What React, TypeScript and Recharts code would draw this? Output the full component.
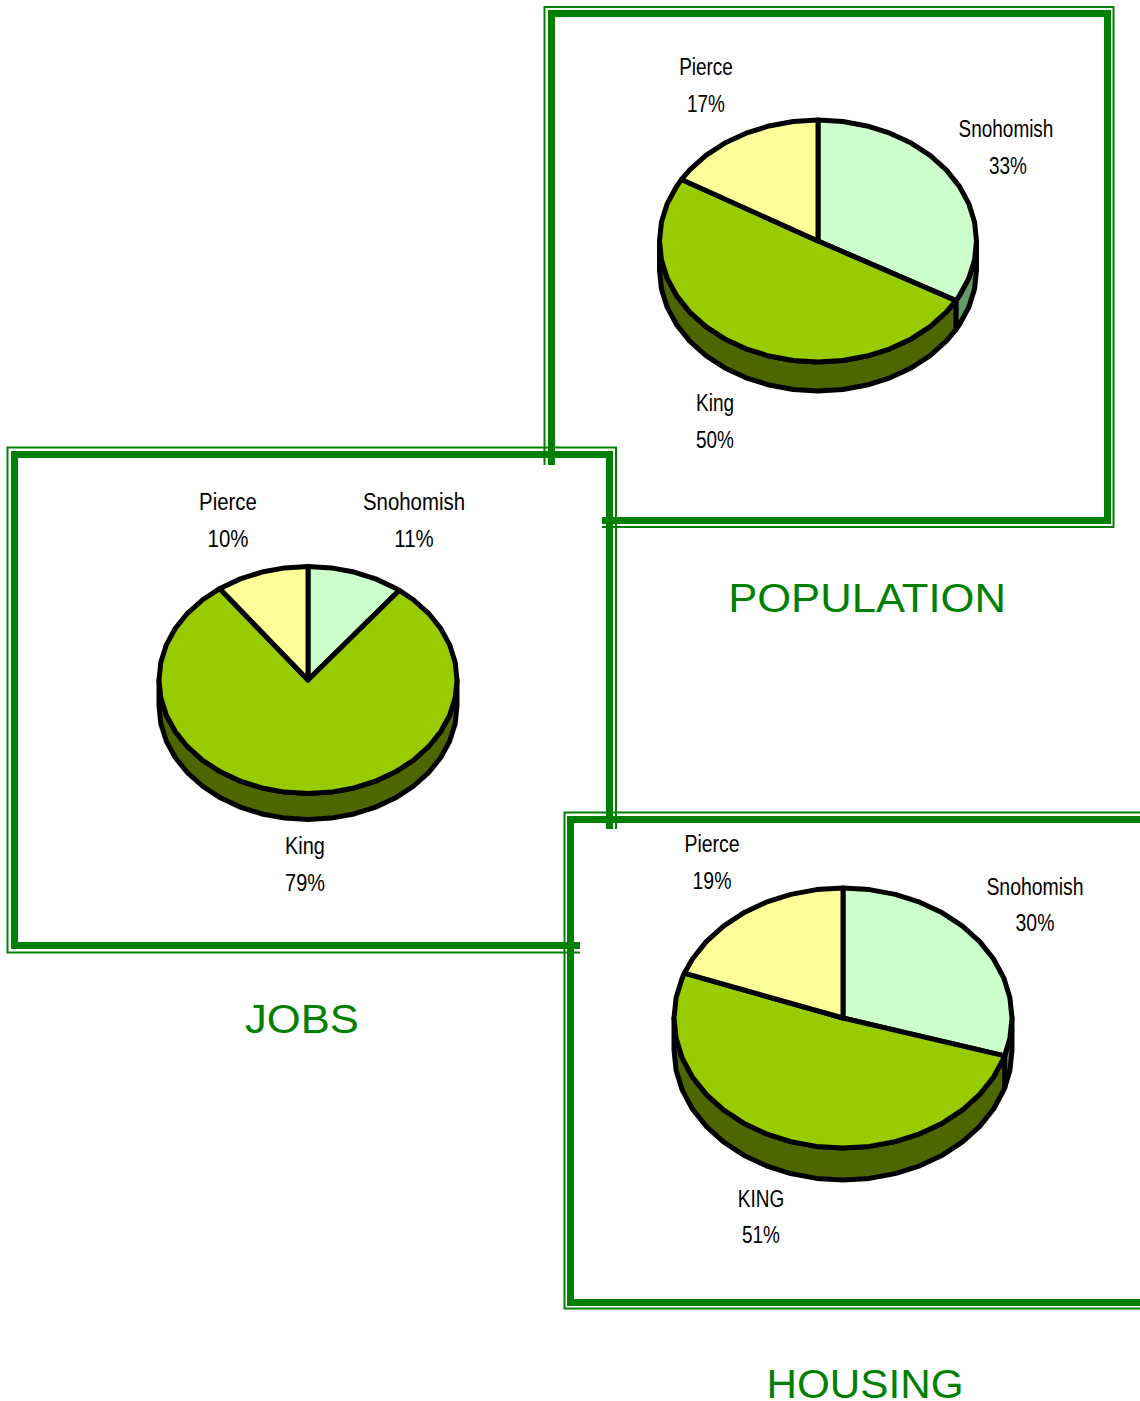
import { Pie, PieChart } from "recharts";

const WIDTH = 1140;
const HEIGHT = 1401;
const GREEN = "#008000";
const SANS = "'Liberation Sans', sans-serif";
const FACET = 9;

const populationNames = ["Snohomish", "King", "Pierce"];
const populationValues = [33.2, 50.3, 16.5];
const jobsNames = ["Snohomish", "King", "Pierce"];
const jobsValues = [10.5, 79.4, 10.1];
const housingNames = ["Snohomish", "KING", "Pierce"];
const housingValues = [29.7, 50.9, 19.4];

const TOP_COLORS = ["#ccffcc", "#99cc00", "#ffff99"];
const WALL_COLORS = ["#669966", "#4d6600", "#80804d"];

const toRows = (names: string[], values: number[]) =>
  names.map((name, i) => ({ name, value: values[i], fill: TOP_COLORS[i], wall: WALL_COLORS[i] }));

// tilted slice: the library gives the angles, we squash the radius into an ellipse
// the rim is faceted on purpose, the original has a bumpy low-res outline
function tiltedSlice(ratio: number, depth: number) {
  return (props: any) => {
    const { cx, cy, outerRadius: rx, startAngle, endAngle, fill, payload } = props;
    const ry = rx * ratio;
    const px = (a: number) => cx + rx * Math.cos((a * Math.PI) / 180);
    const py = (a: number) => cy - ry * Math.sin((a * Math.PI) / 180);
    // angles run downward (clockwise on screen), facets snap to a shared grid
    const rim = (from: number, to: number, dy = 0) => {
      const pts = [from];
      let a = Math.floor(from / FACET) * FACET;
      if (a === from) a -= FACET;
      while (a > to) {
        pts.push(a);
        a -= FACET;
      }
      pts.push(to);
      return pts.map((p) => `${px(p)},${py(p) + dy}`);
    };
    const top = `M${cx},${cy}L${rim(startAngle, endAngle).join("L")}Z`;
    const a1 = Math.min(startAngle, 0);
    const a2 = Math.max(endAngle, -180);
    const wall =
      a1 > a2
        ? `M${rim(a1, a2).join("L")}L${rim(a1, a2, depth).reverse().join("L")}Z`
        : null;
    return (
      <g>
        {wall && <path d={wall} fill={payload?.wall ?? props.wall} stroke="#000" strokeWidth={5} strokeLinejoin="round" />}
        <path d={top} fill={fill} stroke="#000" strokeWidth={5} strokeLinejoin="round" />
      </g>
    );
  };
}

function Label({ x, y, name, value, stretch = 0.79 }: { x: number[]; y: number[]; name: string; value: number; stretch?: number }) {
  const text = [name, `${Math.round(value)}%`];
  return (
    <>
      {text.map((t, i) => (
        <text
          key={t}
          transform={`translate(${x[i]},${y[i]}) scale(${stretch},1)`}
          textAnchor="middle"
          fontFamily={SANS}
          fontSize={24}
          fill="#000"
        >
          {t}
        </text>
      ))}
    </>
  );
}

function Title({ x, y, text, stretch }: { x: number; y: number; text: string; stretch: number }) {
  return (
    <text
      transform={`translate(${x},${y}) scale(${stretch},1)`}
      textAnchor="middle"
      fontFamily={SANS}
      fontSize={40}
      fill={GREEN}
    >
      {text}
    </text>
  );
}

export default function App() {
  return (
    <div style={{ position: "absolute", left: 0, top: 0, width: WIDTH, height: HEIGHT, overflow: "hidden", background: "#fff" }}>
      <svg width={WIDTH} height={HEIGHT} style={{ position: "absolute", left: 0, top: 0 }}>
        <g fill="none" stroke={GREEN}>
          <path d="M551.5,465V13.5H1107.5V520.5H602" strokeWidth={7} />
          <path d="M544.5,465V7H1113.5V527H602" strokeWidth={2} />
          <path d="M609.5,829V454.5H14.5V945.5H580" strokeWidth={7} />
          <path d="M616,829V447.5H7.5V952.5H580" strokeWidth={2} />
          <path d="M1140,819.5H570.5V1302.5H1140" strokeWidth={7} />
          <path d="M1140,812.5H564.5V1308.5H1140" strokeWidth={2} />
        </g>
        <Label x={[706, 706]} y={[75, 112]} name={populationNames[2]} value={populationValues[2]} />
        <Label x={[1006, 1008]} y={[137, 174]} name={populationNames[0]} value={populationValues[0]} />
        <Label x={[715, 715]} y={[411, 448]} name={populationNames[1]} value={populationValues[1]} />
        <Label x={[228, 228]} y={[510, 547]} name={jobsNames[2]} value={jobsValues[2]} stretch={0.85} />
        <Label x={[414, 414]} y={[510, 547]} name={jobsNames[0]} value={jobsValues[0]} stretch={0.85} />
        <Label x={[305, 305]} y={[854, 891]} name={jobsNames[1]} value={jobsValues[1]} stretch={0.83} />
        <Label x={[712, 712]} y={[852, 889]} name={housingNames[2]} value={housingValues[2]} stretch={0.81} />
        <Label x={[1035, 1035]} y={[895, 931]} name={housingNames[0]} value={housingValues[0]} stretch={0.81} />
        <Label x={[761, 761]} y={[1207, 1243]} name={housingNames[1]} value={housingValues[1]} />
        <Title x={867} y={612} text="POPULATION" stretch={1.09} />
        <Title x={302} y={1033} text="JOBS" stretch={1.09} />
        <Title x={865} y={1398} text="HOUSING" stretch={1.055} />
      </svg>
      <div style={{ position: "absolute", left: 0, top: 0 }}>
        <PieChart width={WIDTH} height={HEIGHT} margin={{ top: 0, right: 0, bottom: 0, left: 0 }}>
          <Pie
            data={toRows(populationNames, populationValues)}
            dataKey="value"
            nameKey="name"
            cx={818}
            cy={241}
            innerRadius={0}
            outerRadius={158.5}
            startAngle={90}
            endAngle={-270}
            isAnimationActive={false}
            shape={tiltedSlice(121 / 158.5, 29)}
          />
          <Pie
            data={toRows(jobsNames, jobsValues)}
            dataKey="value"
            nameKey="name"
            cx={308}
            cy={680}
            innerRadius={0}
            outerRadius={149}
            startAngle={90}
            endAngle={-270}
            isAnimationActive={false}
            shape={tiltedSlice(113.5 / 149, 26)}
          />
          <Pie
            data={toRows(housingNames, housingValues)}
            dataKey="value"
            nameKey="name"
            cx={843}
            cy={1018}
            innerRadius={0}
            outerRadius={169}
            startAngle={90}
            endAngle={-270}
            isAnimationActive={false}
            shape={tiltedSlice(130 / 169, 32)}
          />
        </PieChart>
      </div>
    </div>
  );
}
